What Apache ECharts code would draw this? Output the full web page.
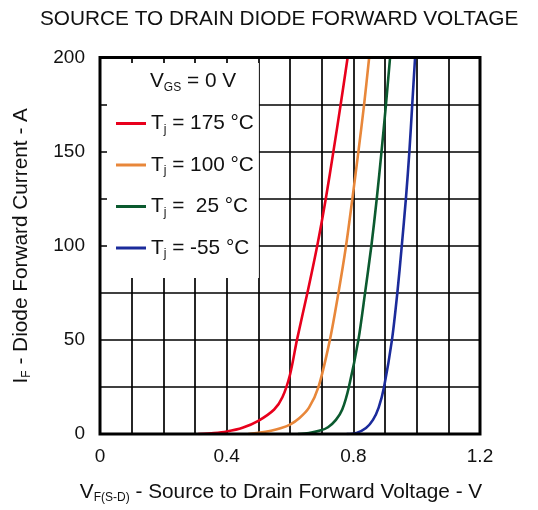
<!DOCTYPE html>
<html><head><meta charset="utf-8">
<script src="https://cdn.jsdelivr.net/npm/echarts@6/dist/echarts.min.js"></script>
<style>html,body{margin:0;padding:0;background:#fff}#c{width:538px;height:510px}</style>
</head><body><div id="c"></div>
<script>
// ---- data ----
const seriesNames = ['Tj = 175 °C', 'Tj = 100 °C', 'Tj =  25 °C', 'Tj = -55 °C'];
const xTickLabels = ['0', '0.4', '0.8', '1.2'];
const yTickLabels = ['0', '50', '100', '150', '200'];

const v175 = [0.31, 0.36, 0.40, 0.45, 0.50, 0.55, 0.576, 0.60, 0.622, 0.655, 0.686, 0.713, 0.737, 0.760, 0.782];
const i175 = [0, 0.5, 1.3, 3.3, 7, 13, 19.5, 31.5, 50, 75, 100, 125, 150, 175, 200];

const v100 = [0.468, 0.50, 0.54, 0.57, 0.60, 0.63, 0.66, 0.69, 0.726, 0.753, 0.777, 0.797, 0.816, 0.834, 0.850];
const i100 = [0, 0.6, 1.7, 3, 5, 8.5, 14, 25, 50, 75, 100, 125, 150, 175, 200];

const v25 = [0.625, 0.66, 0.695, 0.72, 0.745, 0.765, 0.786, 0.816, 0.837, 0.857, 0.874, 0.889, 0.903, 0.916];
const i25 = [0, 0.5, 1.8, 3.6, 7.5, 13, 25, 50, 75, 100, 125, 150, 175, 200];

const vm55 = [0.779, 0.81, 0.84, 0.862, 0.88, 0.897, 0.922, 0.939, 0.953, 0.966, 0.977, 0.986, 0.995];
const im55 = [0, 0.6, 3.2, 7.5, 14, 25, 50, 75, 100, 125, 150, 175, 200];

const curves = [[v175, i175], [v100, i100], [v25, i25], [vm55, im55]];
const colors = ['#e8001c', '#e8873a', '#0b5a2f', '#1b2b9b'];

const FF = '"Liberation Sans", Arial, Helvetica, sans-serif';

const chart = echarts.init(document.getElementById('c'), null, {renderer: 'canvas'});
const subRich = {
  m: {fontFamily: FF, fontSize: 20.8, color: '#111'},
  s: {fontFamily: FF, fontSize: 12, color: '#111', padding: [12, 0, 0, 0]}
};

chart.setOption({
  animation: false,
  backgroundColor: '#fff',
  title: {
    text: 'SOURCE TO DRAIN DIODE FORWARD VOLTAGE',
    left: 35, top: 4,
    textStyle: {fontFamily: FF, fontSize: 20.8, fontWeight: 'normal', color: '#111'}
  },
  grid: {left: 100, right: 58, top: 57.5, bottom: 76, show: true, borderColor: '#000', borderWidth: 3, backgroundColor: 'transparent', z: 3},
  xAxis: {
    type: 'value', min: 0, max: 1.2, interval: 0.1,
    axisLine: {show: false}, axisTick: {show: false},
    splitLine: {show: true, lineStyle: {color: '#000', width: 1.7}},
    axisLabel: {
      margin: 13, fontFamily: FF, fontSize: 19, color: '#111',
      formatter: function (v) {
        const k = Math.round(v * 10);
        return (k % 4 === 0) ? xTickLabels[k / 4] : '';
      }
    },
    name: '{m|V}{s|F(S-D)}{m| - Source to Drain Forward Voltage - V}',
    nameLocation: 'middle', nameGap: 46,
    nameTextStyle: {rich: subRich, padding: [0, 18, 0, 0]}
  },
  yAxis: {
    type: 'value', min: 0, max: 200, interval: 25,
    axisLine: {show: false}, axisTick: {show: false},
    splitLine: {show: true, lineStyle: {color: '#000', width: 1.7}},
    axisLabel: {
      margin: 15, fontFamily: FF, fontSize: 19, color: '#111',
      formatter: function (v) {
        const k = Math.round(v);
        return (k % 50 === 0) ? yTickLabels[k / 50] : '';
      }
    },
    name: '{m|I}{s|F}{m| - Diode Forward Current - A}',
    nameLocation: 'middle', nameGap: 67, nameRotate: 90,
    nameTextStyle: {rich: subRich}
  },
  legend: {
    data: seriesNames,
    orient: 'vertical', left: 107, top: 63,
    padding: [50, 5, 18, 9],
    itemGap: 19, itemWidth: 30, itemHeight: 3, icon: 'rect',
    backgroundColor: '#fff', z: 4,
    selectedMode: false,
    formatter: function (name) { return '{m|T}{s|j}{m|' + name.slice(2) + '}'; },
    textStyle: {fontFamily: FF, fontSize: 20.8, color: '#111', lineHeight: 21, rich: subRich}
  },
  graphic: [{
    type: 'text', left: 150, top: 71, z: 10,
    style: {
      text: '{m|V}{s|GS}{m| = 0 V}',
      rich: subRich, fill: '#111'
    }
  }],
  series: curves.map(function (c, k) {
    return {
      name: seriesNames[k], type: 'line', smooth: 0.3,
      showSymbol: false, symbol: 'none',
      z: 2, clip: true,
      lineStyle: {color: colors[k], width: 2.6},
      itemStyle: {color: colors[k]},
      data: c[0].map(function (v, i) { return [v, c[1][i]]; })
    };
  })
});
</script></body></html>
